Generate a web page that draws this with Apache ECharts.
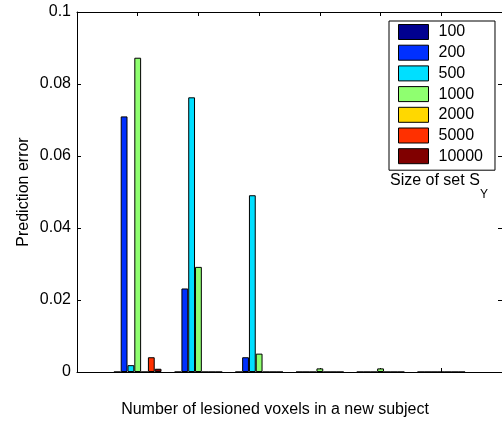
<!DOCTYPE html>
<html>
<head>
<meta charset="utf-8">
<script src="https://cdn.jsdelivr.net/npm/echarts@6/dist/echarts.min.js"></script>
<style>
  html, body { margin: 0; padding: 0; background: #fff; }
  #chart { width: 502px; height: 421px; }
</style>
</head>
<body>
<div id="chart"></div>
<script>
// Group positions along the x axis (no tick labels are shown)
const groups = [1, 2, 3, 4, 5, 6];

// Size of set S_Y, one series per size
const setSizes = ['100', '200', '500', '1000', '2000', '5000', '10000'];

// Prediction error per group, for each set size
const err100   = [0, 0, 0, 0, 0, 0];
const err200   = [0.0710, 0.0232, 0.0041, 0, 0, 0];
const err500   = [0.0019, 0.0763, 0.0491, 0, 0, 0];
const err1000  = [0.0873, 0.0292, 0.0051, 0.0010, 0.0010, 0];
const err2000  = [0, 0, 0, 0, 0, 0];
const err5000  = [0.0041, 0, 0, 0, 0, 0];
const err10000 = [0.0009, 0, 0, 0, 0, 0];

const yTicks = [0, 0.02, 0.04, 0.06, 0.08, 0.1];

const errors = [err100, err200, err500, err1000, err2000, err5000, err10000];
const colors = ['#00008F', '#0030FF', '#00DFFF', '#8FFF70', '#FFD800', '#FF3000', '#800000'];

const FONT = '"Liberation Sans", Arial, sans-serif';

const chart = echarts.init(document.getElementById('chart'), null, { renderer: 'canvas' });

const series = setSizes.map((name, i) => ({
  name: name,
  type: 'bar',
  xAxisIndex: 0,
  yAxisIndex: 0,
  barWidth: 6.8,
  barGap: '0%',
  itemStyle: { color: colors[i], borderColor: '#000', borderWidth: 1 },
  emphasis: { disabled: true },
  data: groups.map((g, j) => [g, errors[i][j]])
}));

const lineStyle = { show: true, onZero: false, lineStyle: { color: '#000', width: 1 } };
const tickStyle = { show: true, inside: true, length: 4, lineStyle: { color: '#000' } };

const tickAxis = {
  type: 'value',
  min: 0,
  max: 7,
  interval: 1,
  axisLine: lineStyle,
  axisTick: tickStyle,
  axisLabel: { show: false },
  splitLine: { show: false }
};

chart.setOption({
  backgroundColor: '#fff',
  animation: false,
  textStyle: { fontFamily: FONT },
  grid: { left: 77, top: 12, width: 426, height: 360 },
  xAxis: [
    Object.assign({}, tickAxis, { position: 'bottom' }),
    Object.assign({}, tickAxis, { position: 'top' })
  ],
  yAxis: [
    {
      type: 'value',
      position: 'left',
      min: yTicks[0],
      max: yTicks[yTicks.length - 1],
      interval: yTicks[1] - yTicks[0],
      name: 'Prediction error',
      nameLocation: 'middle',
      nameGap: 45,
      nameMoveOverlap: false,
      nameTextStyle: { fontSize: 16, color: '#000', fontFamily: FONT },
      axisLine: lineStyle,
      axisTick: tickStyle,
      axisLabel: {
        margin: 6, fontSize: 16, color: '#000', fontFamily: FONT,
        formatter: v => String(parseFloat(v.toFixed(4)))
      },
      splitLine: { show: false }
    },
    {
      type: 'value',
      position: 'right',
      min: yTicks[0],
      max: yTicks[yTicks.length - 1],
      interval: yTicks[1] - yTicks[0],
      axisLine: lineStyle,
      axisTick: tickStyle,
      axisLabel: { show: false },
      splitLine: { show: false }
    }
  ],
  legend: {
    orient: 'vertical',
    left: 389,
    top: 21,
    padding: [3, 12, 6, 9],
    itemWidth: 30,
    itemHeight: 15,
    itemGap: 4.7,
    icon: 'rect',
    selectedMode: false,
    backgroundColor: '#fff',
    borderColor: '#000',
    borderWidth: 1,
    itemStyle: { borderColor: '#000', borderWidth: 1 },
    textStyle: { fontSize: 16, color: '#000', fontFamily: FONT, lineHeight: 15, padding: [0, 0, 0, 5] },
    data: setSizes
  },
  graphic: [
    {
      type: 'text', left: 390, top: 173,
      style: { text: 'Size of set S', fill: '#000', font: '16px ' + FONT }
    },
    {
      type: 'text', left: 480, top: 189,
      style: { text: 'Y', fill: '#000', font: '12px ' + FONT }
    },
    {
      type: 'text', x: 275, y: 410,
      style: {
        text: 'Number of lesioned voxels in a new subject',
        font: '16px ' + FONT, fill: '#000', align: 'center', verticalAlign: 'middle'
      }
    }
  ],
  series: series
});
</script>
</body>
</html>
